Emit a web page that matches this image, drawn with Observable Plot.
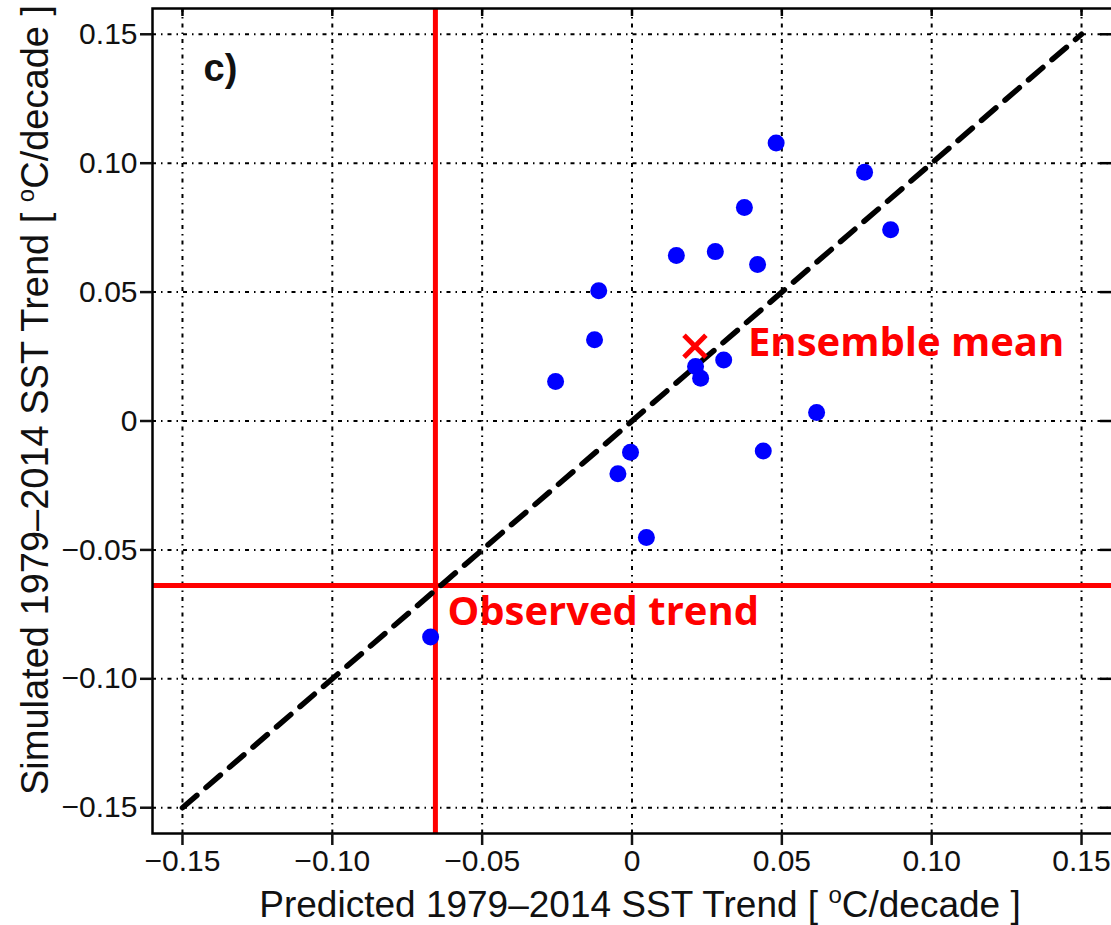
<!DOCTYPE html>
<html>
<head>
<meta charset="utf-8">
<script src="https://cdn.jsdelivr.net/npm/d3@7"></script>
<script src="https://cdn.jsdelivr.net/npm/@observablehq/plot@0.6"></script>
<style>
  html, body { margin: 0; padding: 0; background: #fff; overflow: hidden; }
  #chart svg { display: block; max-width: none !important; }
</style>
</head>
<body>
<div id="chart"></div>
<script>
// Per-member 1979–2014 SST trends (°C/decade): predicted vs simulated
const predicted = [0.0481, 0.0776, 0.0863, 0.0375, 0.0148, 0.0278, 0.0419, -0.0111, -0.0125, -0.0255,
                   0.0212, 0.0229, 0.0306, 0.0616, -0.0005, -0.0047, 0.0438, 0.0048, -0.0672];
const simulated = [0.1078, 0.0965, 0.0742, 0.0828, 0.0642, 0.0657, 0.0607, 0.0505, 0.0315, 0.0153,
                   0.0211, 0.0166, 0.0237, 0.0033, -0.0121, -0.0205, -0.0116, -0.0452, -0.0838];

// Ensemble mean and observed trend
const ensembleMean = [{x: 0.021, y: 0.029}];
const observedTrend = [{x: -0.0656, y: -0.0638}];

// 1:1 reference line end points
const oneToOne = [-0.15, 0.15];

// Axis ticks
const tickValues = [-0.15, -0.10, -0.05, 0, 0.05, 0.10, 0.15];
const tickLabels = ["\u22120.15", "\u22120.10", "\u22120.05", "0", "0.05", "0.10", "0.15"];

const members = predicted.map((p, i) => ({x: p, y: simulated[i]}));
const diagonal = oneToOne.map(v => ({x: v, y: v}));
const labelOf = new Map(tickValues.map((v, i) => [v, tickLabels[i]]));

const W = 1114, H = 925;
const mL = 152, mR = 0, mT = 8, mB = 92;
const plotW = W - mL - mR, plotH = H - mT - mB;

const sans = "'Liberation Sans', Arial, Helvetica, sans-serif";
const annot = "'Open Sans', 'Noto Sans', sans-serif";
const ink = "#111";

const svg = Plot.plot({
  width: W,
  height: H,
  marginLeft: mL,
  marginRight: mR,
  marginTop: mT,
  marginBottom: mB,
  style: {background: "#fff", overflow: "visible"},
  x: {domain: [-0.16, 0.161], label: null},
  y: {domain: [-0.16, 0.16], label: null},
  marks: [
    // dash-dot grid
    Plot.ruleX(tickValues, {stroke: "#000", strokeWidth: 2, strokeDasharray: "4,5,1.5,5"}),
    Plot.ruleY(tickValues, {stroke: "#000", strokeWidth: 2, strokeDasharray: "4,5,1.5,5"}),
    // observed trend cross-hair
    Plot.ruleX(observedTrend, {x: "x", stroke: "#ff0000", strokeWidth: 5}),
    Plot.ruleY(observedTrend, {y: "y", stroke: "#ff0000", strokeWidth: 5}),
    // 1:1 line
    Plot.line(diagonal, {x: "x", y: "y", stroke: "#000", strokeWidth: 5.5, strokeDasharray: "19,12"}),
    // ensemble members
    Plot.dot(members, {x: "x", y: "y", r: 8.5, fill: "#0000ff", stroke: "none"}),
    // ensemble mean
    Plot.dot(ensembleMean, {x: "x", y: "y", symbol: "times", r: 10, stroke: "#ff0000", strokeWidth: 5}),
    Plot.text(ensembleMean, {x: "x", y: "y", text: () => "Ensemble mean", textAnchor: "start",
      dx: 53, dy: -3, fontSize: 40, fontWeight: "bold", fontFamily: annot, fill: "#ff0000"}),
    Plot.text(observedTrend, {x: "x", y: "y", text: () => "Observed trend", textAnchor: "start",
      dx: 12, dy: 27, fontSize: 40, fontWeight: "bold", fontFamily: annot, fill: "#ff0000"}),
    // panel letter
    Plot.text(["c)"], {frameAnchor: "top-left", dx: 51, dy: 46, fontSize: 38, fontWeight: "bold",
      fontFamily: sans, fill: ink}),
    // frame and axes
    Plot.frame({stroke: "#000", strokeWidth: 2.5}),
    Plot.axisX(tickValues, {anchor: "bottom", tickSize: 12, tickPadding: 4, strokeWidth: 2.5,
      tickFormat: d => labelOf.get(d), fontSize: 30, fontFamily: sans, color: ink, label: null}),
    Plot.axisY(tickValues, {anchor: "left", tickSize: 12, tickPadding: 3, strokeWidth: 2.5,
      tickFormat: d => labelOf.get(d), fontSize: 30, fontFamily: sans, color: ink, label: null}),
    // inward ticks on top and right edges
    Plot.tickX(tickValues, {x: d => d, insetBottom: plotH - 8, stroke: "#000", strokeWidth: 2.5}),
    Plot.tickY(tickValues, {y: d => d, insetLeft: plotW - 14, stroke: "#000", strokeWidth: 2.5})
  ]
});

// Axis titles with a superscript degree "o"
function axisTitle(sel, prefix) {
  sel.append("tspan").text(prefix + " [ ");
  sel.append("tspan").attr("dy", -14).attr("font-size", 24).text("o");
  sel.append("tspan").attr("dy", 14).text("C/decade ]");
}
const s = d3.select(svg);
s.append("text")
  .attr("x", 640).attr("y", 917)
  .attr("text-anchor", "middle")
  .attr("font-family", sans).attr("font-size", 37).attr("fill", ink)
  .call(axisTitle, "Predicted 1979\u20132014 SST Trend");
s.append("text")
  .attr("transform", "translate(48,400) rotate(-90)")
  .attr("text-anchor", "middle")
  .attr("font-family", sans).attr("font-size", 38).attr("fill", ink)
  .call(axisTitle, "Simulated 1979\u20132014 SST Trend");

document.getElementById("chart").appendChild(svg);
</script>
</body>
</html>
